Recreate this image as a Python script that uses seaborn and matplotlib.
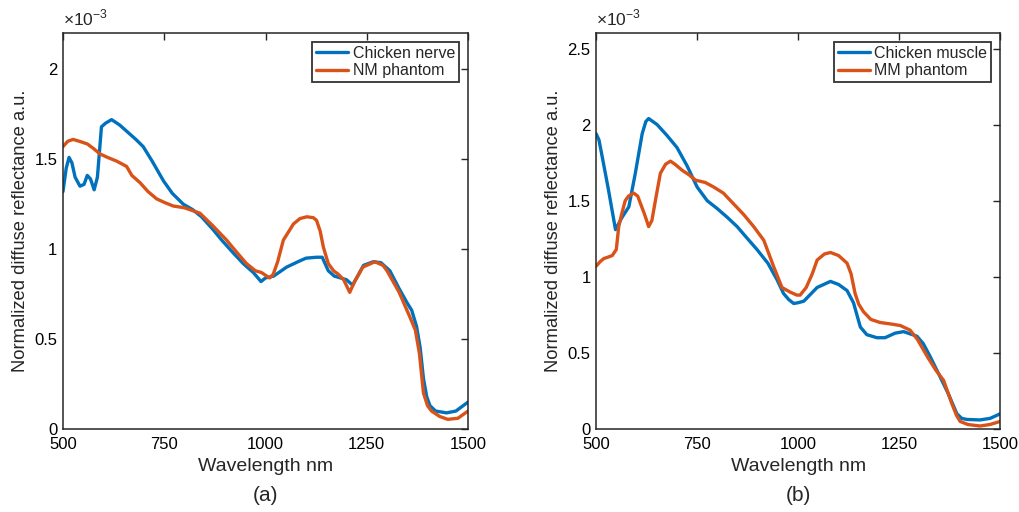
import matplotlib
matplotlib.use("Agg")
import matplotlib.pyplot as plt
import seaborn as sns
import numpy as np
from matplotlib.ticker import FuncFormatter, FixedLocator

# ---------------- data (values in units of 1e-3) ----------------
nerve_wl = [500, 508, 515, 522, 530, 542, 552, 560, 568, 577, 585, 595, 605, 620, 640, 660,
            680, 698, 720, 748, 770, 797, 820, 842, 870, 892, 920, 945, 970, 989, 1000,
            1020, 1052, 1080, 1100, 1126, 1140, 1155, 1170, 1200, 1215, 1230, 1242, 1266,
            1285, 1307, 1330, 1350, 1361, 1373, 1382, 1390, 1398, 1406, 1420, 1447, 1470, 1500]
nerve_val = [1.32, 1.45, 1.51, 1.48, 1.40, 1.35, 1.36, 1.41, 1.39, 1.33, 1.40, 1.68, 1.70, 1.72, 1.69, 1.65,
             1.61, 1.57, 1.49, 1.38, 1.31, 1.25, 1.22, 1.18, 1.11, 1.05, 0.98, 0.92, 0.87, 0.82, 0.84,
             0.85, 0.90, 0.93, 0.95, 0.955, 0.955, 0.88, 0.85, 0.83, 0.80, 0.86, 0.91, 0.93,
             0.925, 0.88, 0.78, 0.70, 0.66, 0.57, 0.45, 0.28, 0.18, 0.13, 0.10, 0.09, 0.10, 0.15]

nm_wl = [500, 512, 525, 540, 560, 575, 591, 610, 632, 657, 670, 690, 710, 731, 750, 772, 800,
         838, 870, 904, 930, 953, 975, 990, 1010, 1019, 1030, 1044, 1069, 1085, 1102, 1118, 1126,
         1135, 1143, 1155, 1168, 1180, 1193, 1208, 1220, 1240, 1270, 1290, 1300, 1330, 1357,
         1370, 1380, 1390, 1400, 1410, 1430, 1450, 1475, 1500]
nm_val = [1.57, 1.60, 1.61, 1.60, 1.585, 1.56, 1.53, 1.51, 1.49, 1.46, 1.41, 1.37, 1.32, 1.28, 1.26, 1.24, 1.23,
          1.20, 1.13, 1.05, 0.98, 0.92, 0.88, 0.87, 0.84, 0.86, 0.93, 1.05, 1.14, 1.17, 1.18, 1.175, 1.16,
          1.10, 1.01, 0.92, 0.88, 0.86, 0.83, 0.76, 0.82, 0.90, 0.93, 0.91, 0.88, 0.76, 0.62,
          0.55, 0.42, 0.20, 0.13, 0.10, 0.07, 0.054, 0.06, 0.10]

muscle_wl = [500, 507, 515, 530, 548, 556, 564, 581, 597, 614, 623, 630, 651, 675, 700, 725, 750,
             775, 799, 825, 849, 875, 898, 925, 948, 964, 977, 989, 1000, 1014, 1047, 1080, 1100,
             1121, 1137, 1154, 1170, 1195, 1215, 1240, 1261, 1294, 1310, 1327, 1352, 1372, 1393,
             1405, 1418, 1450, 1475, 1500]
muscle_val = [1.94, 1.90, 1.79, 1.58, 1.31, 1.35, 1.39, 1.46, 1.68, 1.94, 2.02, 2.04, 2.00, 1.93, 1.85, 1.73, 1.59,
              1.50, 1.45, 1.39, 1.33, 1.25, 1.18, 1.09, 0.98, 0.89, 0.85, 0.825, 0.83, 0.84, 0.93, 0.97, 0.95,
              0.91, 0.83, 0.67, 0.62, 0.60, 0.60, 0.63, 0.64, 0.61, 0.56, 0.475, 0.34, 0.23, 0.10,
              0.07, 0.063, 0.06, 0.07, 0.10]

mm_wl = [500, 510, 519, 530, 540, 550, 556, 564, 572, 580, 593, 603, 610, 620, 630, 638, 648, 659,
         672, 684, 695, 713, 730, 746, 770, 791, 815, 840, 865, 890, 915, 939, 960, 980, 997, 1005,
         1020, 1035, 1047, 1065, 1080, 1100, 1121, 1131, 1141, 1150, 1162, 1180, 1203, 1230, 1253,
         1277, 1295, 1320, 1340, 1360, 1380, 1392, 1401, 1420, 1450, 1475, 1500]
mm_val = [1.07, 1.10, 1.12, 1.13, 1.14, 1.18, 1.33, 1.42, 1.50, 1.53, 1.55, 1.53, 1.48, 1.41, 1.33, 1.37, 1.52, 1.68,
          1.74, 1.76, 1.74, 1.70, 1.67, 1.635, 1.62, 1.59, 1.55, 1.48, 1.41, 1.33, 1.24, 1.07, 0.93, 0.90, 0.88, 0.88,
          0.93, 1.02, 1.11, 1.15, 1.16, 1.14, 1.09, 1.02, 0.89, 0.82, 0.77, 0.72, 0.70, 0.69, 0.68,
          0.65, 0.59, 0.475, 0.39, 0.32, 0.17, 0.09, 0.05, 0.03, 0.02, 0.03, 0.05]

panels = [
    dict(series=[("Chicken nerve", nerve_wl, nerve_val), ("NM phantom", nm_wl, nm_val)],
         ylim=2.2, yticks=[0, 0.5, 1, 1.5, 2], tag="(a)"),
    dict(series=[("Chicken muscle", muscle_wl, muscle_val), ("MM phantom", mm_wl, mm_val)],
         ylim=2.6, yticks=[0, 0.5, 1, 1.5, 2, 2.5], tag="(b)"),
]
xticks = [500, 750, 1000, 1250, 1500]
colors = ["#0072BD", "#D95319"]

# ---------------- plotting ----------------
sns.set_theme(style="white")
plt.rcParams["font.family"] = ["Liberation Sans", "DejaVu Sans"]
plt.rcParams["mathtext.fontset"] = "custom"
plt.rcParams["mathtext.rm"] = "Liberation Sans"

fig = plt.figure(figsize=(10.19, 5.12), dpi=100)
positions = [[0.0618, 0.162, 0.3975, 0.773], [0.585, 0.162, 0.3965, 0.773]]

for pos, p in zip(positions, panels):
    ax = fig.add_axes(pos)
    for (name, wl, val), c in zip(p["series"], colors):
        sns.lineplot(x=np.array(wl), y=np.array(val) * 1e-3, ax=ax, color=c, lw=2.4,
                     label=name, estimator=None, sort=False)
    ax.set_xlim(500, 1500)
    ax.set_ylim(0, p["ylim"] * 1e-3)
    ax.xaxis.set_major_locator(FixedLocator(xticks))
    ax.yaxis.set_major_locator(FixedLocator([t * 1e-3 for t in p["yticks"]]))
    ax.yaxis.set_major_formatter(FuncFormatter(lambda v, _: f"{v * 1e3:g}"))
    ax.tick_params(direction="in", length=5, width=1, top=True, right=True,
                   labelsize=12, colors="#262626")
    ax.tick_params(axis="x", pad=6)
    ax.tick_params(axis="y", pad=4)
    ax.tick_params(axis="both", labelcolor="black")
    for s in ax.spines.values():
        s.set_color("#262626")
        s.set_linewidth(1.1)
    ax.set_xlabel("Wavelength nm", fontsize=14, labelpad=4)
    ax.set_ylabel("Normalized diffuse reflectance a.u.", fontsize=13.2, labelpad=4)
    ax.text(0.0, 1.012, r"$\times10^{-3}$", transform=ax.transAxes, fontsize=12.5,
            ha="left", va="bottom", color="#262626")
    ax.text(0.5, -0.167, p["tag"], transform=ax.transAxes, fontsize=15,
            ha="center", va="center")
    leg = ax.legend(loc="upper right", fontsize=11.5, frameon=True, fancybox=False,
                    borderaxespad=0.55, handlelength=2.0, borderpad=0.25,
                    labelspacing=0.15, handletextpad=0.3)
    leg.get_frame().set_edgecolor("black")
    leg.get_frame().set_linewidth(1.3)
    for line in leg.get_lines():
        line.set_linewidth(2.4)

fig.savefig("out.png", dpi=100)
